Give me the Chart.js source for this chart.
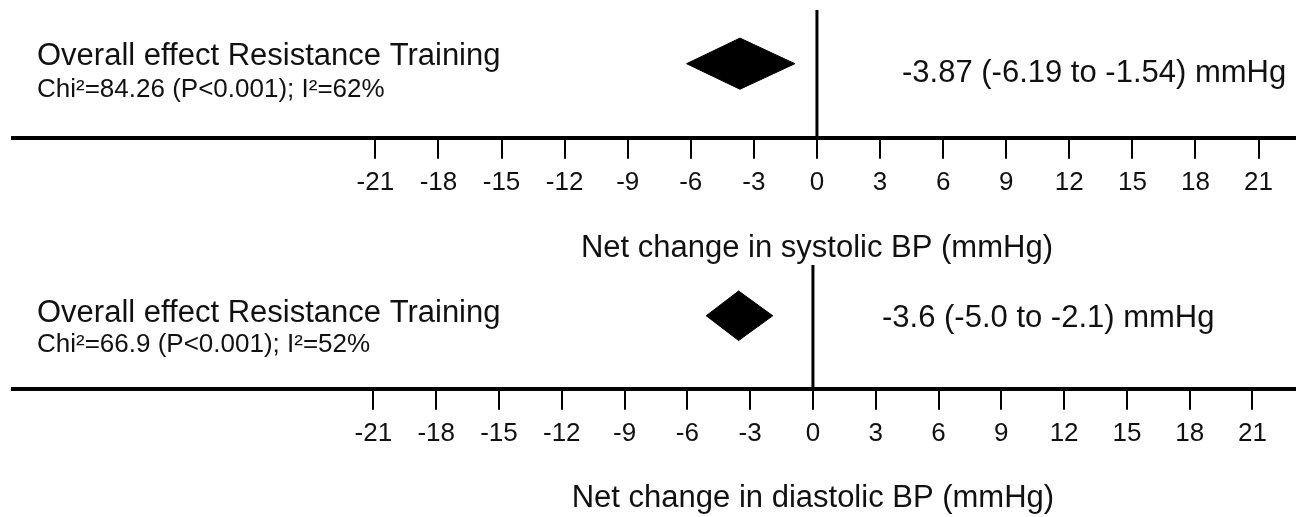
<!DOCTYPE html>
<html>
<head>
<meta charset="utf-8">
<title>Resistance training and blood pressure</title>
<script src="https://cdn.jsdelivr.net/npm/chart.js@4.4.0/dist/chart.umd.min.js"></script>
<style>
  html, body { margin: 0; padding: 0; background: #fff; overflow: hidden; }
  #wrap { position: relative; width: 1296px; height: 517px; }
  canvas { position: absolute; left: 0; }
  #sysChart { top: 0; }
  #diaChart { top: 251px; }
</style>
</head>
<body>
<div id="wrap">
  <canvas id="sysChart" width="1296" height="269"></canvas>
  <canvas id="diaChart" width="1296" height="266"></canvas>
</div>
<script>
// pooled effect per outcome (diamond tips)
const outcomes = ['systolic', 'diastolic'];
const estimates = [-3.66, -3.55];
const lowerBounds = [-6.2, -5.1];
const upperBounds = [-1.05, -1.92];

const groupLabel = 'Overall effect Resistance Training';
const statLabels = ['Chi\u00b2=84.26 (P<0.001); I\u00b2=62%', 'Chi\u00b2=66.9 (P<0.001); I\u00b2=52%'];
const resultLabels = ['-3.87 (-6.19 to -1.54) mmHg', '-3.6 (-5.0 to -2.1) mmHg'];
const axisTitles = ['Net change in systolic BP (mmHg)', 'Net change in diastolic BP (mmHg)'];

const tickValues = [-21, -18, -15, -12, -9, -6, -3, 0, 3, 6, 9, 12, 15, 18, 21];
const tickLabels = ['-21', '-18', '-15', '-12', '-9', '-6', '-3', '0', '3', '6', '9', '12', '15', '18', '21'];

const FONT = '"Liberation Sans", Arial, sans-serif';
Chart.defaults.font.family = FONT;
Chart.defaults.color = '#111';

// text round the diamond, plus the axis title centred on zero
const panelText = {
  id: 'panelText',
  afterDraw(chart, args, opts) {
    const ctx = chart.ctx;
    const i = opts.index;
    ctx.save();
    ctx.fillStyle = '#111';
    ctx.textBaseline = 'alphabetic';
    ctx.textAlign = 'left';
    ctx.font = '31px ' + FONT;
    ctx.fillText(groupLabel, 37, opts.groupY);
    ctx.font = '26px ' + FONT;
    ctx.fillText(statLabels[i], 37, opts.statY);
    ctx.font = '31px ' + FONT;
    ctx.fillText(resultLabels[i], opts.resultX, opts.resultY);
    // axis title
    ctx.textAlign = 'center';
    ctx.textBaseline = 'middle';
    ctx.fillText(axisTitles[i], chart.scales.x.getPixelForValue(0), opts.titleY);
    ctx.restore();
  }
};

function makePanel(canvasId, i, cfg) {
  const c = cfg.rowY, h = 0.2;
  const diamond = [
    { x: lowerBounds[i], y: c },
    { x: estimates[i], y: c + h },
    { x: upperBounds[i], y: c },
    { x: estimates[i], y: c - h },
    { x: lowerBounds[i], y: c }
  ];
  const ctx = document.getElementById(canvasId).getContext('2d');
  return new Chart(ctx, {
    type: 'line',
    data: {
      datasets: [
        {
          label: 'no effect',
          data: [{ x: 0, y: 0 }, { x: 0, y: 1 }],
          borderColor: '#000',
          borderWidth: 3,
          pointRadius: 0,
          fill: false
        },
        {
          label: outcomes[i],
          data: diamond,
          borderColor: '#000',
          backgroundColor: '#000',
          borderWidth: 1,
          pointRadius: 0,
          tension: 0,
          fill: 'shape'
        }
      ]
    },
    options: {
      responsive: false,
      animation: false,
      layout: { padding: { left: 13, right: 0, top: cfg.top, bottom: cfg.bottom } },
      scales: {
        x: {
          type: 'linear',
          min: cfg.min,
          max: cfg.max,
          afterBuildTicks: axis => { axis.ticks = tickValues.map(v => ({ value: v })); },
          ticks: {
            callback: (v, idx) => tickLabels[idx],
            font: { size: 26 },
            color: '#111',
            padding: 8,
            autoSkip: false,
            maxRotation: 0
          },
          grid: { drawOnChartArea: false, drawTicks: true, tickLength: 21, color: '#000', lineWidth: 2 },
          border: { display: true, width: 4, color: '#000' },
          title: { display: false }
        },
        y: { type: 'linear', display: false, min: 0, max: 1 }
      },
      plugins: {
        legend: { display: false },
        tooltip: { enabled: false },
        panelText: cfg.text
      }
    },
    plugins: [panelText]
  });
}

makePanel('sysChart', 0, {
  min: -38.23, max: 22.78, top: 10, bottom: 63, rowY: 0.58,
  text: { index: 0, groupY: 65, statY: 97, resultX: 902, resultY: 82, titleY: 248 }
});
makePanel('diaChart', 1, {
  min: -38.22, max: 23.08, top: 14, bottom: 60, rowY: 0.59,
  text: { index: 1, groupY: 71, statY: 101, resultX: 882, resultY: 76, titleY: 247 }
});
</script>
</body>
</html>
